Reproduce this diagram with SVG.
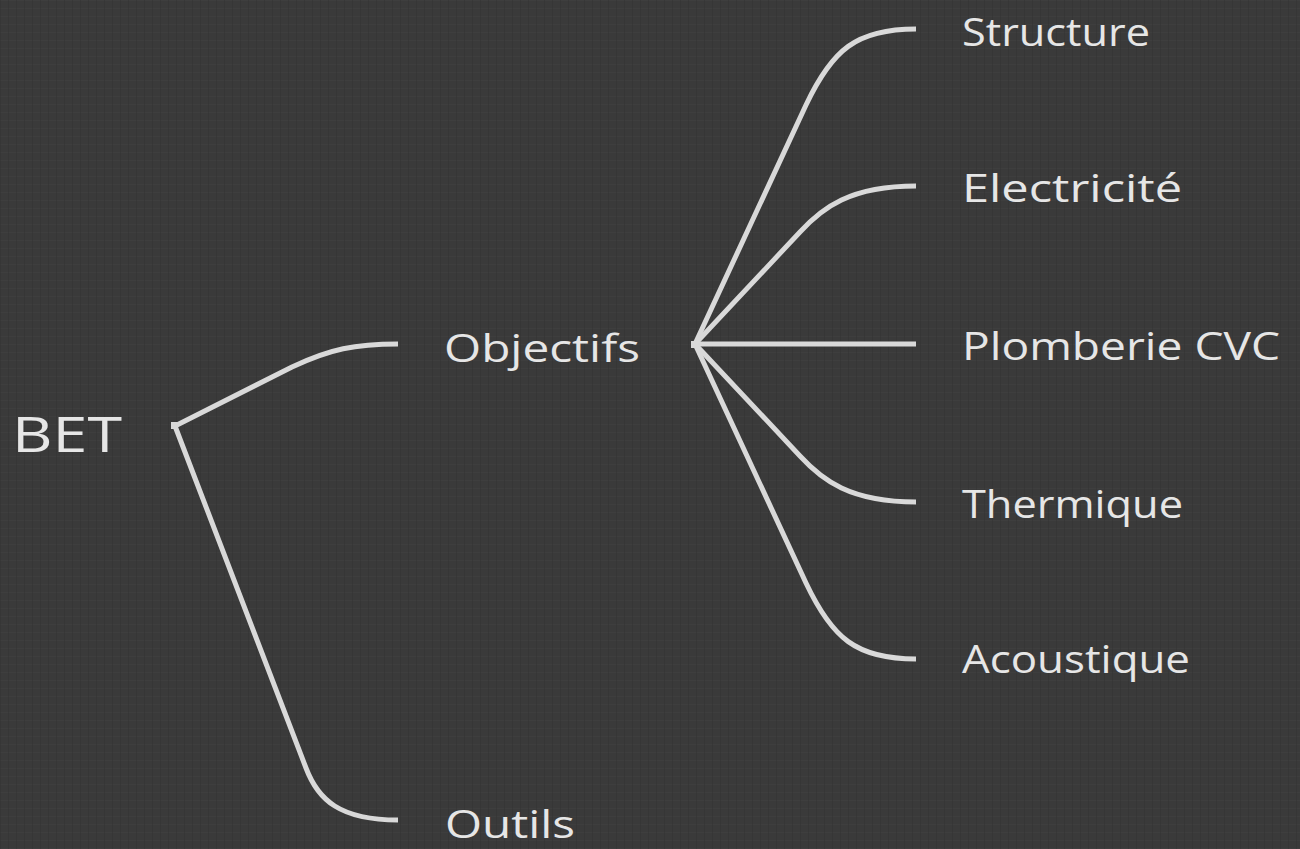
<svg xmlns="http://www.w3.org/2000/svg" width="1300" height="849" viewBox="0 0 1300 849">
<defs>
<pattern id="tex" width="8" height="8" patternUnits="userSpaceOnUse">
<rect width="8" height="8" fill="#3a3a3a"/>
<rect x="0" y="0" width="8" height="1" fill="#414141" opacity="0.6"/>
<rect x="0" y="0" width="1" height="8" fill="#343434" opacity="0.6"/>
</pattern>
<style>
.lbl{font-family:"Open Sans","Liberation Sans",sans-serif;font-size:38px;fill:#e6e6e6;}
.big{font-size:50px;}
.conn{fill:none;stroke:#d9d9d9;stroke-width:5;stroke-linejoin:round;}
.hub{fill:#d9d9d9;}
</style>
</defs>
<rect width="1300" height="849" fill="url(#tex)"/>
<g id="connectors">
<rect class="hub" x="171" y="422" width="7" height="7"/>
<path class="conn" d="M175,426 L292,367 C330,349 355,344 398,344"/>
<path class="conn" d="M175,426 L306,768 C318,800 340,820 398,820"/>
<rect class="hub" x="691" y="341" width="7" height="7"/>
<path class="conn" d="M695,344 L916,344"/>
<path class="conn" d="M695,344 L806,105 C832,50 856,29 916,29"/>
<path class="conn" d="M695,344 L800,232 C822,208 850,186 916,186"/>
<path class="conn" d="M695,344 L800,456 C822,480 850,502 916,502"/>
<path class="conn" d="M695,344 L806,583 C832,638 856,659 916,659"/>
</g>
<g id="node-bet"><text class="lbl big" x="12" y="452" textLength="110" lengthAdjust="spacingAndGlyphs">BET</text></g>
<g id="node-objectifs"><text class="lbl" x="444" y="362" textLength="196" lengthAdjust="spacingAndGlyphs">Objectifs</text></g>
<g id="node-outils"><text class="lbl" x="445" y="838" textLength="130" lengthAdjust="spacingAndGlyphs">Outils</text></g>
<g id="node-structure"><text class="lbl" x="962" y="46" textLength="188" lengthAdjust="spacingAndGlyphs">Structure</text></g>
<g id="node-electricite"><text class="lbl" x="962" y="202" textLength="220" lengthAdjust="spacingAndGlyphs">Electricité</text></g>
<g id="node-plomberie"><text class="lbl" x="962" y="360" textLength="318" lengthAdjust="spacingAndGlyphs">Plomberie CVC</text></g>
<g id="node-thermique"><text class="lbl" x="962" y="518" textLength="221" lengthAdjust="spacingAndGlyphs">Thermique</text></g>
<g id="node-acoustique"><text class="lbl" x="962" y="673" textLength="228" lengthAdjust="spacingAndGlyphs">Acoustique</text></g>
</svg>
